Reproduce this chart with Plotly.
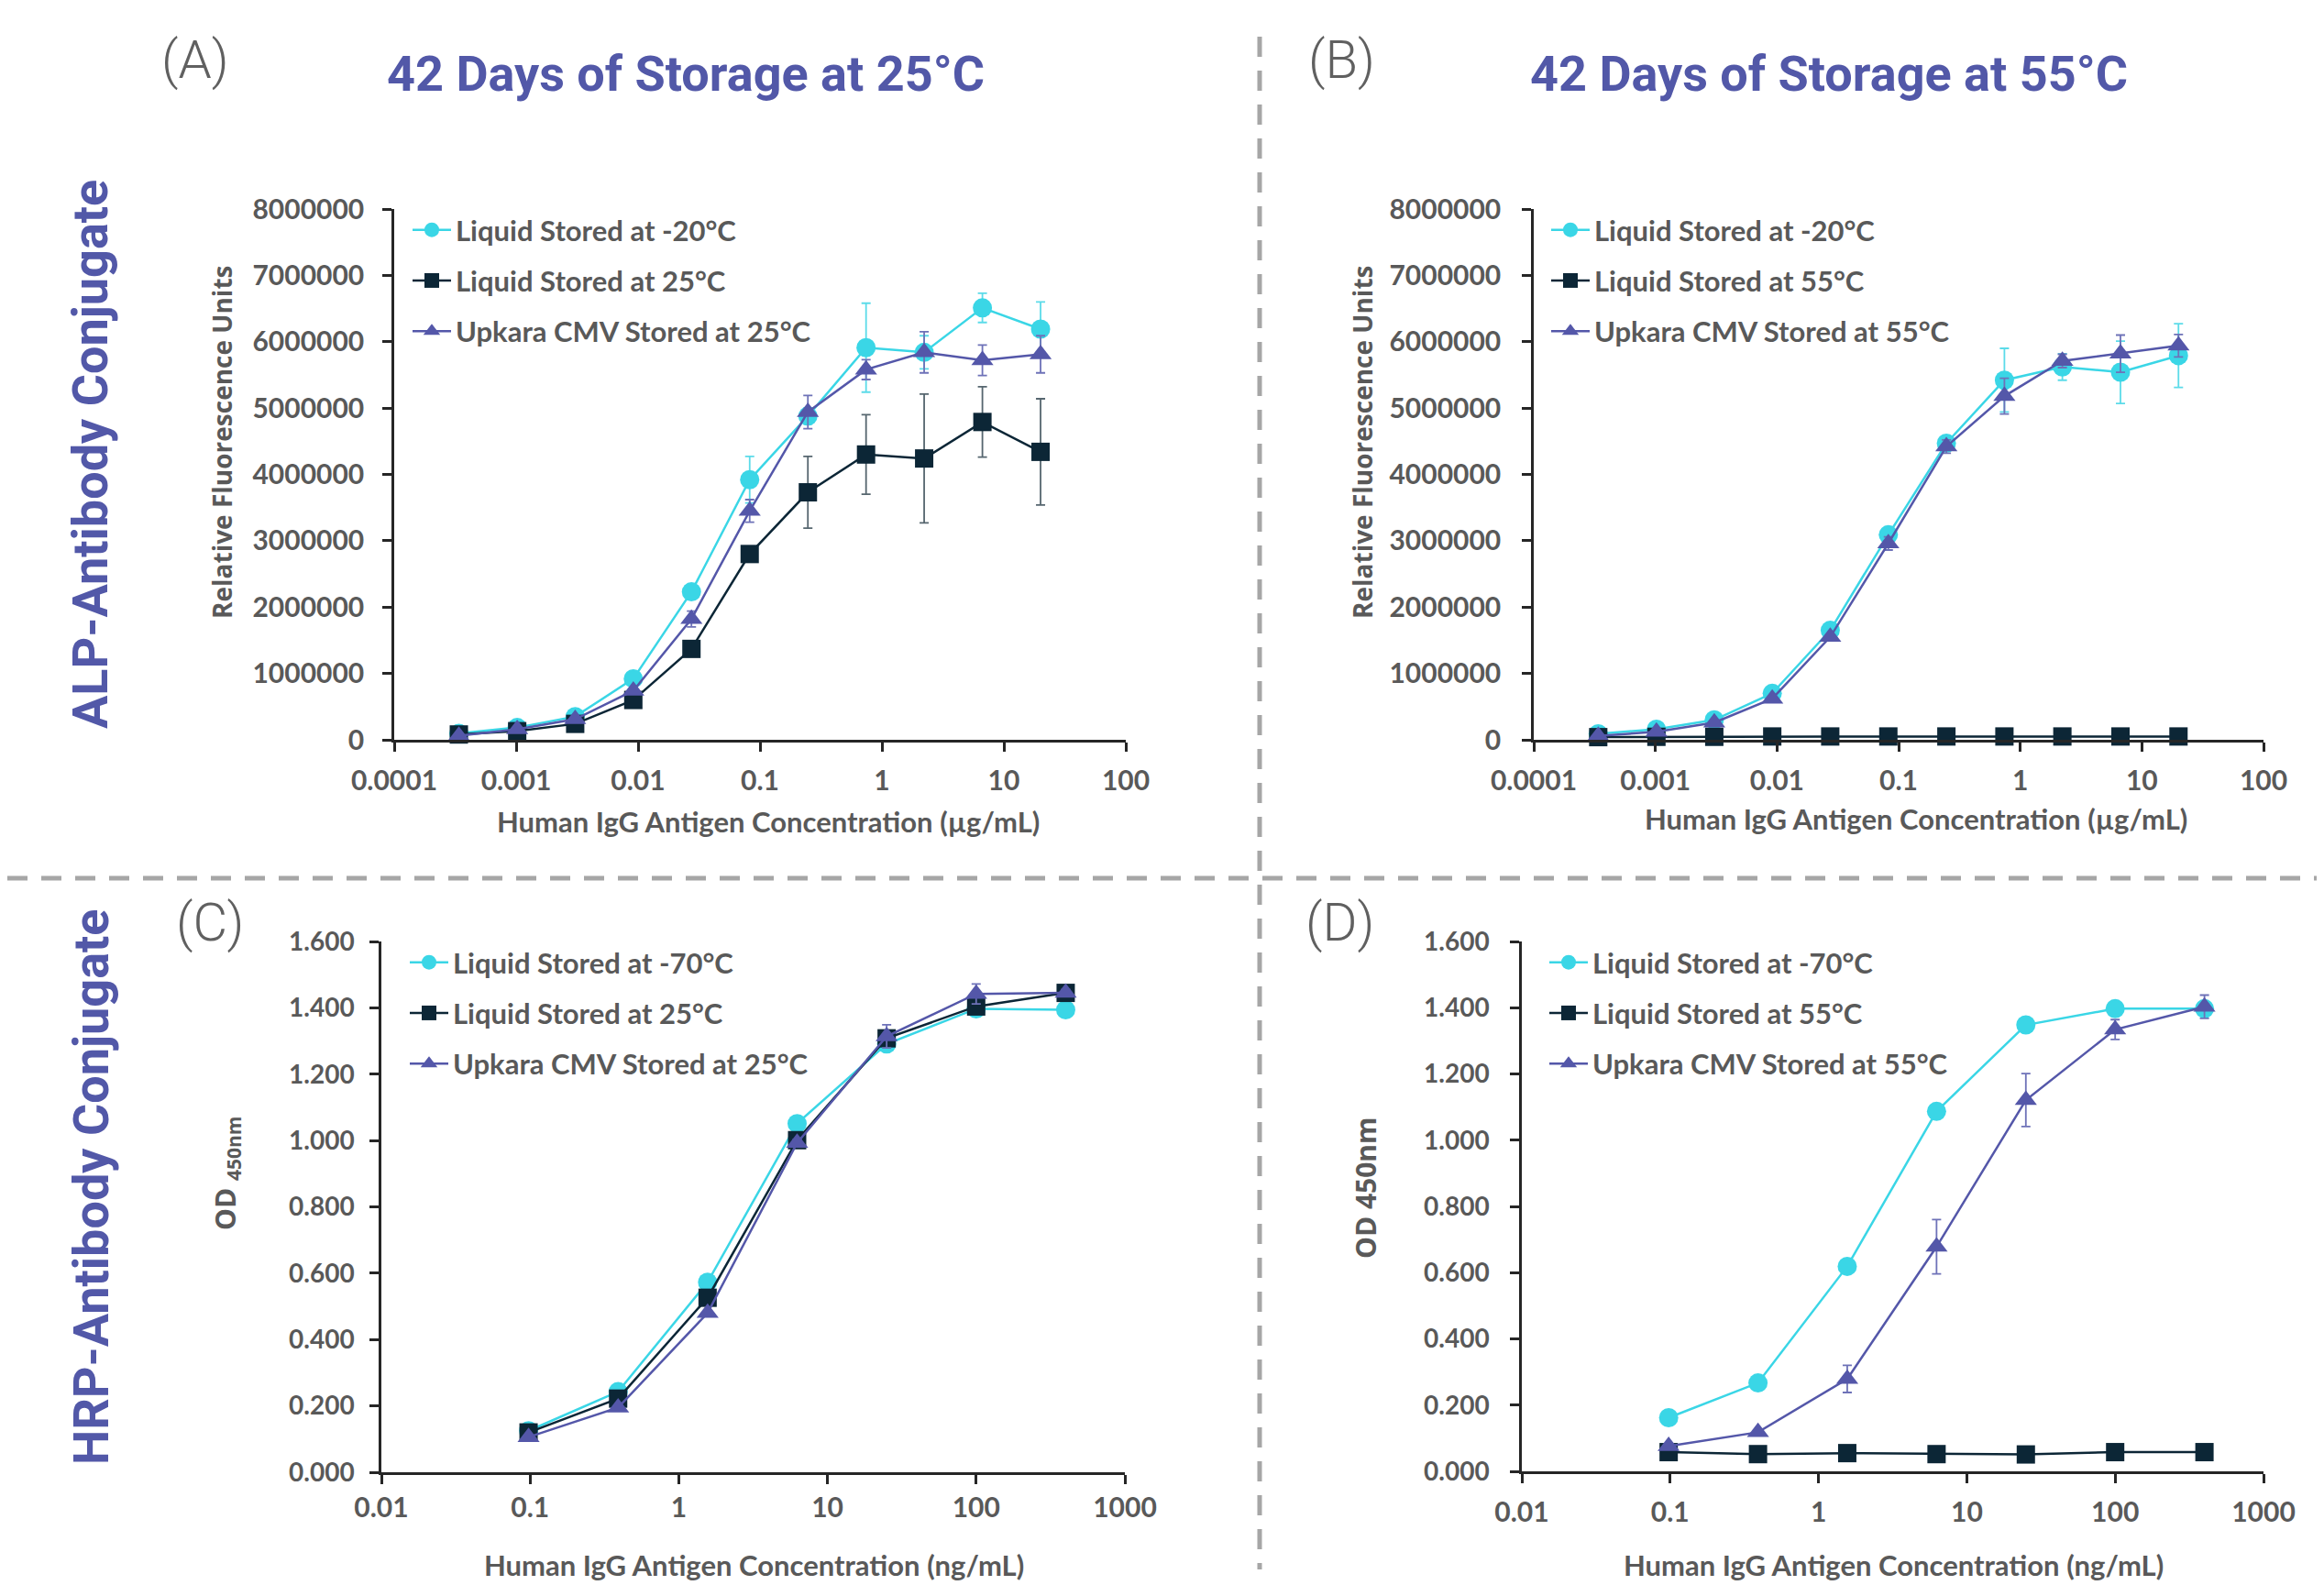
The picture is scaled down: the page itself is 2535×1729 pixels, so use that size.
import plotly.graph_objects as go

W, H = 2535, 1729
OFF = 8  # default page body margin of the html page
FW, FH = W - OFF, H - OFF

# ---------------- data ----------------
conc_ug = [0.000339, 0.00102, 0.00305, 0.00914, 0.0274, 0.0823, 0.247, 0.741, 2.22, 6.67, 20]
conc_ng = [0.0977, 0.391, 1.5625, 6.25, 25, 100, 400]

A_cyan = [95000, 185000, 350000, 920000, 2230000, 3920000, 4880000, 5910000, 5840000, 6510000, 6190000]
A_cyan_err = [10000, 20000, 30000, 40000, 60000, 350000, 120000, 670000, 250000, 220000, 410000]
A_sq = [80000, 130000, 240000, 600000, 1370000, 2800000, 3730000, 4300000, 4240000, 4790000, 4340000]
A_sq_err = [0, 0, 0, 0, 0, 0, 540000, 600000, 970000, 530000, 800000]
A_tri = [60000, 160000, 310000, 740000, 1820000, 3450000, 4940000, 5580000, 5840000, 5720000, 5810000]
A_tri_err = [0, 0, 0, 0, 120000, 170000, 250000, 150000, 310000, 230000, 280000]

B_cyan = [90000, 160000, 300000, 700000, 1650000, 3090000, 4470000, 5420000, 5620000, 5540000, 5790000]
B_cyan_err = [0, 0, 0, 0, 0, 80000, 100000, 480000, 200000, 470000, 480000]
B_sq = [40000, 45000, 45000, 50000, 50000, 50000, 50000, 50000, 50000, 50000, 50000]
B_tri = [60000, 120000, 260000, 620000, 1550000, 2960000, 4420000, 5180000, 5710000, 5820000, 5940000]
B_tri_err = [0, 0, 0, 0, 0, 100000, 100000, 270000, 100000, 280000, 170000]

C_cyan = [0.125, 0.243, 0.573, 1.051, 1.291, 1.397, 1.394]
C_sq = [0.120, 0.222, 0.526, 1.001, 1.308, 1.404, 1.445]
C_tri = [0.106, 0.195, 0.480, 0.993, 1.314, 1.442, 1.445]
C_tri_err = [0, 0, 0, 0.01, 0.035, 0.03, 0.01]

D_cyan = [0.162, 0.267, 0.619, 1.087, 1.348, 1.397, 1.397]
D_sq = [0.058, 0.052, 0.055, 0.052, 0.051, 0.058, 0.058]
D_tri = [0.076, 0.118, 0.279, 0.678, 1.121, 1.334, 1.403]
D_tri_err = [0.0, 0.0, 0.041, 0.082, 0.080, 0.030, 0.035]

rfu_ticks = [0, 1000000, 2000000, 3000000, 4000000, 5000000, 6000000, 7000000, 8000000]
rfu_ticklabels = ["0", "1000000", "2000000", "3000000", "4000000", "5000000", "6000000", "7000000", "8000000"]
ug_ticks = [0.0001, 0.001, 0.01, 0.1, 1, 10, 100]
ug_ticklabels = ["0.0001", "0.001", "0.01", "0.1", "1", "10", "100"]
od_ticks = [0, 0.2, 0.4, 0.6, 0.8, 1.0, 1.2, 1.4, 1.6]
od_ticklabels = ["0.000", "0.200", "0.400", "0.600", "0.800", "1.000", "1.200", "1.400", "1.600"]
ng_ticks = [0.01, 0.1, 1, 10, 100, 1000]
ng_ticklabels = ["0.01", "0.1", "1", "10", "100", "1000"]

# ---------------- style ----------------
CYAN = "#3ad6e6"
NAVY = "#0c2636"
PURPLE = "#5457a9"
CYAN_E = "#5cdbe9"
NAVY_E = "#56666f"
PURPLE_E = "#6e72b8"
TXT = "#595959"
TITLE = "#5258a8"


def px_x(p):
    return (p - OFF) / FW


def px_y(p):
    return 1 - (p - OFF) / FH


fig = go.Figure()


def add_series(x, y, err, name, color, ecolor, symbol, size, xa, ya, leg):
    kw = {}
    if err is not None:
        kw["error_y"] = dict(type="data", array=err, visible=True, color=ecolor, thickness=1.8, width=5)
    fig.add_trace(go.Scatter(
        x=x, y=y, mode="lines+markers", name=name,
        line=dict(color=color, width=2.5),
        marker=dict(symbol=symbol, size=size, color=color, line=dict(width=0)),
        xaxis=xa, yaxis=ya, legend=leg, legendgroup=leg + name,
        cliponaxis=False, **kw))


# Panel A
add_series(conc_ug, A_cyan, A_cyan_err, "Liquid Stored at -20°C", CYAN, CYAN_E, "circle", 21, "x", "y", "legend")
add_series(conc_ug, A_sq, A_sq_err, "Liquid Stored at 25°C", NAVY, NAVY_E, "square", 20, "x", "y", "legend")
add_series(conc_ug, A_tri, A_tri_err, "Upkara CMV Stored at 25°C", PURPLE, PURPLE_E, "triangle-up", 21, "x", "y", "legend")
# Panel B
add_series(conc_ug, B_cyan, B_cyan_err, "Liquid Stored at -20°C", CYAN, CYAN_E, "circle", 21, "x2", "y2", "legend2")
add_series(conc_ug, B_sq, None, "Liquid Stored at 55°C", NAVY, NAVY_E, "square", 20, "x2", "y2", "legend2")
add_series(conc_ug, B_tri, B_tri_err, "Upkara CMV Stored at 55°C", PURPLE, PURPLE_E, "triangle-up", 21, "x2", "y2", "legend2")
# Panel C
add_series(conc_ng, C_cyan, None, "Liquid Stored at -70°C", CYAN, CYAN_E, "circle", 21, "x3", "y3", "legend3")
add_series(conc_ng, C_sq, None, "Liquid Stored at 25°C", NAVY, NAVY_E, "square", 20, "x3", "y3", "legend3")
add_series(conc_ng, C_tri, C_tri_err, "Upkara CMV Stored at 25°C", PURPLE, PURPLE_E, "triangle-up", 21, "x3", "y3", "legend3")
# Panel D
add_series(conc_ng, D_cyan, None, "Liquid Stored at -70°C", CYAN, CYAN_E, "circle", 21, "x4", "y4", "legend4")
add_series(conc_ng, D_sq, None, "Liquid Stored at 55°C", NAVY, NAVY_E, "square", 20, "x4", "y4", "legend4")
add_series(conc_ng, D_tri, D_tri_err, "Upkara CMV Stored at 55°C", PURPLE, PURPLE_E, "triangle-up", 21, "x4", "y4", "legend4")


def tickfont(size):
    return dict(family="Lato", size=size, color=TXT, weight="bold")


axis_common = dict(showline=True, linecolor="#262626", linewidth=2.5, showgrid=False, zeroline=False,
                   ticks="outside", ticklen=10, tickwidth=2.5, tickcolor="#262626",
                   tickmode="array", automargin=False)

# panel pixel boxes: (left, right, top, bottom), x standoff, y standoff, y tick size
boxes = {
    "A": (430, 1228, 228, 807, 6, 14, 30),
    "B": (1673, 2469, 228, 807, 6, 17, 30),
    "C": (416, 1227, 1027, 1606, 0, 11, 28),
    "D": (1660, 2469, 1027, 1605, 6, 17, 28),
}

layout_axes = {}
for i, (key, xt, xl, yt, yl, xr, yr) in enumerate([
    ("A", ug_ticks, ug_ticklabels, rfu_ticks, rfu_ticklabels, [-4, 2], [0, 8000000]),
    ("B", ug_ticks, ug_ticklabels, rfu_ticks, rfu_ticklabels, [-4, 2], [0, 8000000]),
    ("C", ng_ticks, ng_ticklabels, od_ticks, od_ticklabels, [-2, 3], [0, 1.6]),
    ("D", ng_ticks, ng_ticklabels, od_ticks, od_ticklabels, [-2, 3], [0, 1.6]),
]):
    l, r, t, b, xs, ys, yts = boxes[key]
    sfx = "" if i == 0 else str(i + 1)
    layout_axes["xaxis" + sfx] = dict(axis_common, type="log", range=xr, tickvals=xt, ticktext=xl,
                                      tickfont=tickfont(30),
                                      domain=[px_x(l), px_x(r)], anchor="y" + sfx, ticklabelstandoff=xs)
    layout_axes["yaxis" + sfx] = dict(axis_common, range=yr, tickvals=yt, ticktext=yl,
                                      tickfont=tickfont(yts),
                                      domain=[px_y(b), px_y(t)], anchor="x" + sfx, ticklabelstandoff=ys)

fig.update_layout(template="none")
fig.update_layout(**layout_axes)

legfont = dict(family="Lato", size=31, color=TXT, weight="bold")
leg_pos = {"legend": (445, 224), "legend2": (1687, 224), "legend3": (442, 1023), "legend4": (1685, 1023)}
for k, (lx, ly) in leg_pos.items():
    fig.update_layout(**{k: dict(x=px_x(lx), y=px_y(ly), xanchor="left", yanchor="top",
                                 font=legfont, bgcolor="rgba(0,0,0,0)", itemwidth=42, borderwidth=0,
                                 tracegroupgap=12, traceorder="grouped")})

ann = []


def add_text(text, x, y, size, color, family, weight="normal", angle=0):
    ann.append(dict(text=text, x=px_x(x), y=px_y(y), xref="paper", yref="paper",
                    xanchor="center", yanchor="middle", showarrow=False, textangle=angle,
                    font=dict(family=family, size=size, color=color, weight=weight)))


add_text("(A)", 213, 65, 58, "#606060", "Roboto", 300)
add_text("(B)", 1463, 65, 58, "#606060", "Roboto", 300)
add_text("(C)", 229, 1006, 58, "#606060", "Roboto", 300)
add_text("(D)", 1461, 1006, 58, "#606060", "Roboto", 300)
add_text("42 Days of Storage at 25°C", 748, 80, 54, TITLE, "Roboto", "bold")
add_text("42 Days of Storage at 55°C", 1995, 80, 54, TITLE, "Roboto", "bold")
add_text("ALP-Antibody Conjugate", 99, 496, 54, TITLE, "Roboto", "bold", -90)
add_text("HRP-Antibody Conjugate", 99, 1295, 54, TITLE, "Roboto", "bold", -90)
add_text("Relative Fluorescence Units", 242, 482, 28, TXT, "Open Sans", "bold", -90)
add_text("Relative Fluorescence Units", 1486, 482, 28, TXT, "Open Sans", "bold", -90)
add_text("OD <sub>450nm</sub>", 247, 1280, 30, TXT, "Open Sans", "bold", -90)
add_text("OD 450nm", 1489, 1296, 30, TXT, "Open Sans", "bold", -90)
add_text("Human IgG Antigen Concentration (µg/mL)", 838, 896, 31, TXT, "Lato", "bold")
add_text("Human IgG Antigen Concentration (µg/mL)", 2090, 893, 31, TXT, "Lato", "bold")
add_text("Human IgG Antigen Concentration (ng/mL)", 822, 1707, 31, TXT, "Lato", "bold")
add_text("Human IgG Antigen Concentration (ng/mL)", 2065, 1707, 31, TXT, "Lato", "bold")

shapes = [
    dict(type="line", xref="paper", yref="paper", x0=px_x(1374), x1=px_x(1374), y0=px_y(40), y1=px_y(1712),
         line=dict(color="#a6a6a6", width=5, dash="22px,15px")),
    dict(type="line", xref="paper", yref="paper", x0=0, x1=1, y0=px_y(958), y1=px_y(958),
         line=dict(color="#a6a6a6", width=5, dash="22px,15px")),
]

fig.update_layout(width=FW, height=FH, margin=dict(l=0, r=0, t=0, b=0, pad=0, autoexpand=False),
                  paper_bgcolor="white", plot_bgcolor="white",
                  annotations=ann, shapes=shapes, showlegend=True)

fig.write_html("out.html")
